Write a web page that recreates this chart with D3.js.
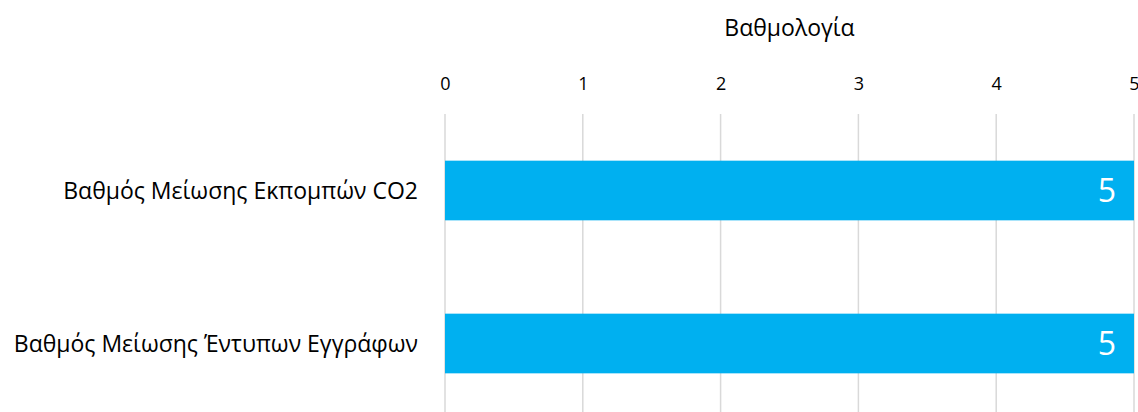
<!DOCTYPE html>
<html>
<head>
<meta charset="utf-8">
<script src="https://cdn.jsdelivr.net/npm/d3@7"></script>
<style>
  html, body { margin: 0; padding: 0; background: #ffffff; }
  svg { display: block; font-family: "Open Sans", "Noto Sans", sans-serif; }
</style>
</head>
<body>
<svg id="chart" width="1138" height="412"></svg>
<script>
// Categories and scores
const categories = [
  "Βαθμός Μείωσης Εκπομπών CO2",
  "Βαθμός Μείωσης Έντυπων Εγγράφων"
];
const scores = [5, 5];
const tickValues = [0, 1, 2, 3, 4, 5];
const axisTitle = "Βαθμολογία";

const svg = d3.select("#chart");
const plotLeft = 445, plotRight = 1134, plotTop = 114, plotBottom = 420;

const x = d3.scaleLinear().domain([0, 5]).range([plotLeft, plotRight]);
const y = d3.scaleBand().domain(categories).range([plotTop, plotBottom]).paddingInner(0.61).paddingOuter(0.305);

// Vertical gridlines
svg.append("g")
  .selectAll("line")
  .data(tickValues)
  .join("line")
  .attr("x1", d => x(d)).attr("x2", d => x(d))
  .attr("y1", plotTop).attr("y2", plotBottom)
  .attr("stroke", "#d9d9d9")
  .attr("stroke-width", 1.5);

// Top axis tick labels
const axis = d3.axisTop(x).tickValues(tickValues).tickFormat(d3.format("d")).tickSize(0).tickPadding(0);
const gAxis = svg.append("g").attr("transform", "translate(0,90)").call(axis);
gAxis.select(".domain").remove();
gAxis.selectAll("text")
  .attr("font-size", 18)
  .attr("font-family", "'Open Sans', 'Noto Sans', sans-serif")
  .attr("fill", "#000")
  .attr("dy", 0);

// Axis title
svg.append("text")
  .attr("x", (plotLeft + plotRight) / 2)
  .attr("y", 36)
  .attr("text-anchor", "middle")
  .attr("font-size", 23)
  .attr("fill", "#000")
  .text(axisTitle);

// Bars
svg.append("g")
  .selectAll("rect")
  .data(categories)
  .join("rect")
  .attr("x", x(0))
  .attr("y", d => y(d))
  .attr("width", (d, i) => x(scores[i]) - x(0))
  .attr("height", y.bandwidth())
  .attr("fill", "#00b0f0");

// Category labels
svg.append("g")
  .selectAll("text")
  .data(categories)
  .join("text")
  .attr("x", 418)
  .attr("y", d => y(d) + y.bandwidth() / 2)
  .attr("dy", "0.35em")
  .attr("text-anchor", "end")
  .attr("font-size", 23)
  .attr("fill", "#000")
  .text(d => d);

// Value labels inside bar ends
svg.append("g")
  .selectAll("text")
  .data(categories)
  .join("text")
  .attr("x", (d, i) => x(scores[i]) - 18)
  .attr("y", d => y(d) + y.bandwidth() / 2)
  .attr("dy", "0.36em")
  .attr("text-anchor", "end")
  .attr("font-size", 32)
  .attr("fill", "#ffffff")
  .text((d, i) => scores[i]);
</script>
</body>
</html>
